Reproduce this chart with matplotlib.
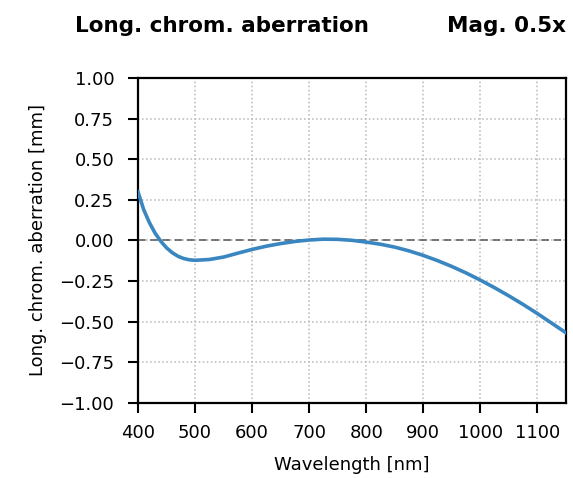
import numpy as np
import matplotlib
matplotlib.use("Agg")
from matplotlib import pyplot as plt
from matplotlib.ticker import FuncFormatter

# wavelength [nm] and longitudinal chromatic aberration [mm]
wavelength = [400, 410, 420, 430, 440, 450, 460, 470, 480, 490, 500, 525, 550,
              575, 600, 625, 650, 675, 700, 725, 750, 775, 800, 825, 850, 875,
              900, 925, 950, 975, 1000, 1025, 1050, 1075, 1100, 1125, 1150]
aberration = [0.30, 0.19, 0.11, 0.045, -0.005, -0.045, -0.075, -0.097, -0.111,
              -0.119, -0.122, -0.117, -0.102, -0.078, -0.055, -0.035, -0.019,
              -0.006, 0.003, 0.008, 0.007, 0.001, -0.01, -0.023, -0.041, -0.064,
              -0.092, -0.124, -0.160, -0.200, -0.244, -0.291, -0.341, -0.394,
              -0.450, -0.509, -0.568]

x_ticks = [400, 500, 600, 700, 800, 900, 1000, 1100]
y_ticks = [-1.0, -0.75, -0.5, -0.25, 0.0, 0.25, 0.5, 0.75, 1.0]

fig = plt.figure(figsize=(5.73, 4.78), dpi=100)
ax = fig.add_axes([0.2408, 0.1569, 0.747, 0.68])

ax.axhline(0, color='#555555', lw=1.1, ls=(0, (5, 3)), zorder=2)
ax.plot(wavelength, aberration, color='#3a86c0', lw=2.6, zorder=3)

ax.set_xlim(400, 1150)
ax.set_ylim(-1, 1)
ax.set_xticks(x_ticks)
ax.set_yticks(y_ticks)
ax.yaxis.set_major_formatter(FuncFormatter(lambda v, p: f'{v:.2f}'.replace('-', '\u2212')))
ax.grid(True, ls=':', color='#b8b8b8', lw=1.1)
ax.tick_params(labelsize=13, length=7, width=1.5, direction='out')
ax.tick_params(axis='y', pad=10)
ax.tick_params(axis='x', pad=8)
for s in ax.spines.values():
    s.set_linewidth(1.6)

ax.set_xlabel('Wavelength [nm]', fontsize=13, labelpad=10)
ax.set_ylabel('Long. chrom. aberration [mm]', fontsize=13, labelpad=9)

fig.text(75 / 573, 1 - 32 / 478, 'Long. chrom. aberration', fontsize=15.5,
         fontweight='bold', ha='left', va='baseline')
fig.text(566 / 573, 1 - 32 / 478, 'Mag. 0.5x', fontsize=15.5,
         fontweight='bold', ha='right', va='baseline')

fig.savefig('out.png', dpi=100)
